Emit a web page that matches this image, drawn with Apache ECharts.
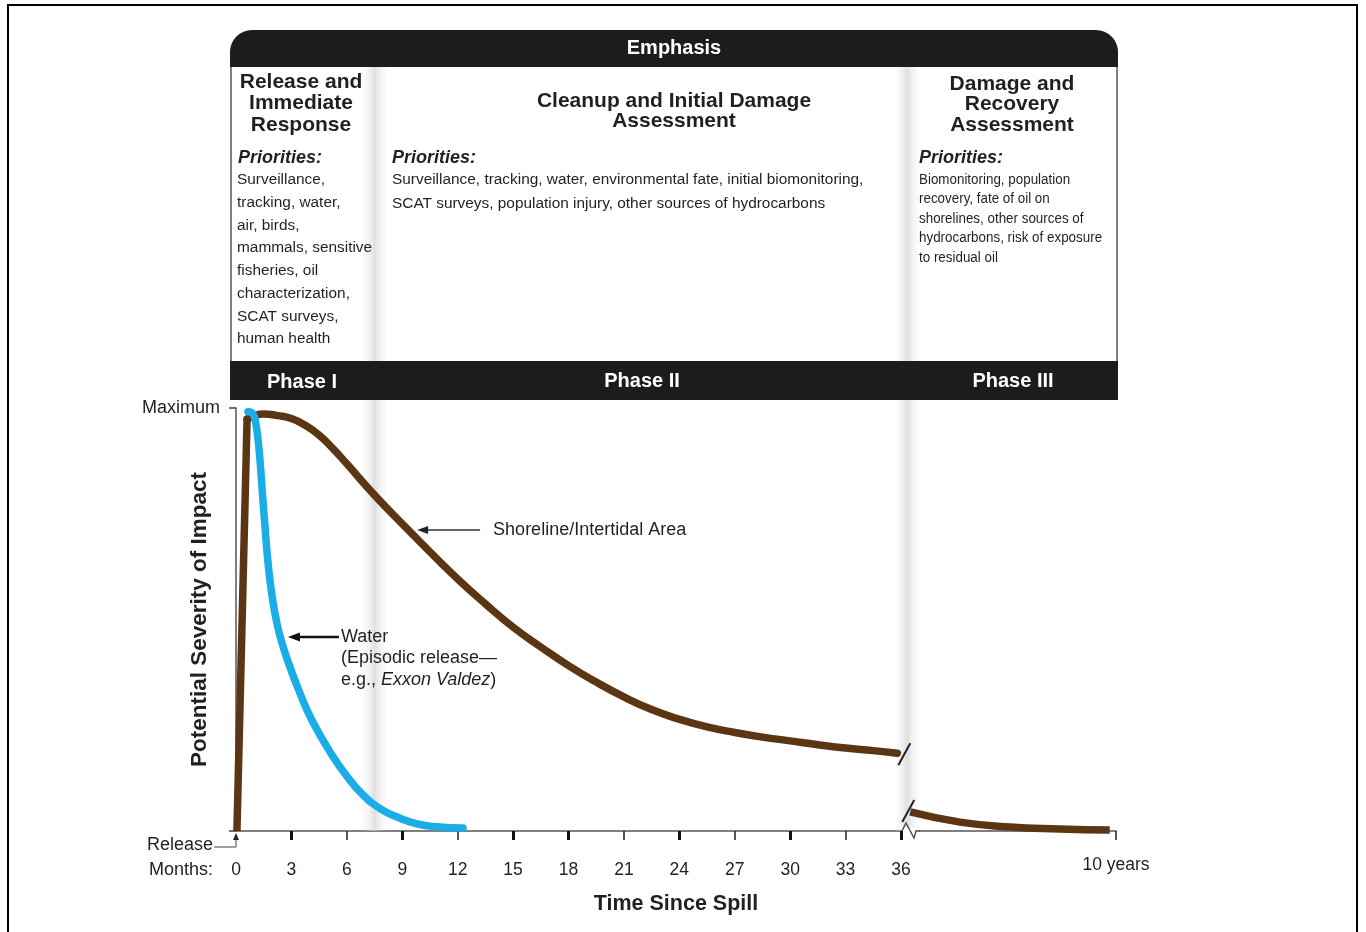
<!DOCTYPE html>
<html><head><meta charset="utf-8">
<script src="https://cdn.jsdelivr.net/npm/echarts@6/dist/echarts.min.js"></script>
<style>html,body{margin:0;padding:0;background:#fff}#c{width:1366px;height:932px}</style>
</head><body><div id="c"></div>
<script>
// ---- data (months since spill, severity 0 = release level, 100 = maximum) ----
const shorelineMonths   = [0.05, 0.6, 1.5, 2.25, 3, 3.75, 4.5, 5.25, 6, 7.5, 9, 10.5, 12, 13.5, 15, 16.5, 18, 19.5, 21, 22.5, 24, 25.5, 27, 28.5, 30, 31.5, 33, 34.5, 35.8];
const shorelineSeverity = [0, 97.4, 98.6, 98.2, 97.5, 95.9, 93.6, 90.4, 86.8, 79.4, 72.6, 66.0, 59.6, 53.7, 48.2, 43.5, 39.1, 35.2, 31.7, 28.7, 26.4, 24.6, 23.3, 22.2, 21.3, 20.4, 19.6, 19.0, 18.4];
// compressed segment after the axis break (3 years -> 10 years)
const shorelineLateMonths   = [36.5, 39.2, 41.9, 44.6, 47.3];
const shorelineLateSeverity = [4.5, 2.1, 0.95, 0.5, 0.24];
const waterMonths   = [0.65, 0.92, 1.08, 1.25, 1.41, 1.57, 1.73, 1.95, 2.22, 2.54, 2.92, 3.46, 4.11, 5.09, 6.01, 6.88, 7.8, 8.72, 9.8, 10.88, 12.29];
const waterSeverity = [99.1, 98.6, 96.2, 90.1, 81.1, 71.9, 63.6, 55.6, 49.0, 43.7, 38.8, 32.6, 26.2, 18.7, 12.9, 8.5, 5.3, 3.3, 1.7, 1.0, 0.7];
const monthLabels = [0, 3, 6, 9, 12, 15, 18, 21, 24, 27, 30, 33, 36];
const thickTicks  = [3, 9, 15, 18, 24, 30, 36];
const thinTicks   = [6, 12, 21, 27, 33];
const tenYearsPos = 47.64;          // axis position standing for "10 years"
const tenYearsLabel = '10 years';
const phaseBoundaries = [7.5, 36.33];

const FONT = '"Liberation Sans", Arial, Helvetica, sans-serif';
const TXT = '#231f20';
const BROWN = '#5c3613';
const zip = (xs, ys) => xs.map((x, i) => [x, ys[i]]);
const shoreline = zip(shorelineMonths, shorelineSeverity);

const chart = echarts.init(document.getElementById('c'), null, {renderer: 'canvas'});
chart.setOption({
  animation: false,
  backgroundColor: '#fff',
  grid: {left: 236, right: 250, top: 408, bottom: 101},
  xAxis: [{
    type: 'value', min: 0, max: tenYearsPos,
    axisLine: {show: true, lineStyle: {color: '#555', width: 1.5}},
    axisTick: {show: true, customValues: thinTicks.concat([tenYearsPos]), length: 9, lineStyle: {color: '#222', width: 1.5}},
    axisLabel: {customValues: monthLabels, formatter: v => String(v), margin: 30, color: TXT, fontSize: 17.5, fontFamily: FONT},
    splitLine: {show: false},
    name: 'Time Since Spill', nameLocation: 'middle', nameGap: 62,
    nameTextStyle: {fontSize: 21.5, fontWeight: 'bold', color: TXT, fontFamily: FONT}
  }, {
    type: 'value', min: 0, max: tenYearsPos, position: 'bottom',
    axisLine: {show: false},
    axisTick: {show: true, customValues: thickTicks, length: 9, lineStyle: {color: '#111', width: 3}},
    axisLabel: {show: false}, splitLine: {show: false}
  }],
  yAxis: {
    type: 'value', min: 0, max: 100, offset: 3,
    axisLine: {show: true, lineStyle: {color: '#555', width: 1.5}},
    axisTick: {show: true, customValues: [0, 100], length: 7, lineStyle: {color: '#444', width: 1.5}},
    axisLabel: {customValues: [100], formatter: () => 'Maximum', margin: 13, color: TXT, fontSize: 18, fontFamily: FONT},
    splitLine: {show: false},
    name: 'Potential Severity of Impact', nameLocation: 'middle', nameGap: 22, nameRotate: 90, nameMoveOverlap: false,
    nameTextStyle: {fontSize: 22.5, fontWeight: 'bold', color: TXT, fontFamily: FONT}
  },
  series: [{
    name: 'Shoreline rise', type: 'line', data: shoreline.slice(0, 2),
    symbol: 'none', z: 3,
    lineStyle: {color: BROWN, width: 7.5, cap: 'butt'}
  }, {
    name: 'Shoreline/Intertidal Area', type: 'line', data: shoreline.slice(1),
    smooth: 0.5, symbol: 'none', z: 3,
    lineStyle: {color: BROWN, width: 7.5, cap: 'round', join: 'round'}
  }, {
    name: 'Shoreline later', type: 'line', data: zip(shorelineLateMonths, shorelineLateSeverity),
    smooth: 0.5, symbol: 'none', z: 3,
    lineStyle: {color: BROWN, width: 7.5, cap: 'butt', join: 'round'}
  }, {
    name: 'Water', type: 'line', data: zip(waterMonths, waterSeverity),
    smooth: 0.5, symbol: 'none', z: 4,
    lineStyle: {color: '#1aade6', width: 7.5, cap: 'round', join: 'round'}
  }]
});

const P = (x, y) => chart.convertToPixel({seriesIndex: 0}, [x, y]);
const [x0, yBase] = P(0, 0);

function txt(x, y, text, o) {
  o = o || {};
  return {type: 'text', x: x, y: y, z: o.z || 30, scaleX: o.scaleX || 1,
    style: {text: text, x: 0, y: 0, fill: o.fill || TXT, font: o.font || ('18px ' + FONT),
      align: o.align || 'left', verticalAlign: o.va || 'middle', lineHeight: o.lh, rich: o.rich}};
}
const els = [];
// frame
els.push({type: 'rect', z: 1, shape: {x: 8, y: 5, width: 1349, height: 945}, style: {fill: 'transparent', stroke: '#000', lineWidth: 2}});
// header side borders
els.push({type: 'line', z: 2, shape: {x1: 231, y1: 50, x2: 231, y2: 400}, style: {stroke: '#555', lineWidth: 1.5}});
els.push({type: 'line', z: 2, shape: {x1: 1117, y1: 50, x2: 1117, y2: 400}, style: {stroke: '#555', lineWidth: 1.5}});
// phase boundary bands
phaseBoundaries.forEach(m => {
  const bx = P(m, 0)[0];
  els.push({type: 'rect', z: 1, shape: {x: bx - 13, y: 66, width: 26, height: yBase - 66},
    style: {fill: {type: 'linear', x: 0, y: 0, x2: 1, y2: 0, colorStops: [
      {offset: 0, color: 'rgba(215,215,215,0)'}, {offset: 0.3, color: 'rgba(215,215,215,0.35)'},
      {offset: 0.5, color: 'rgba(210,210,210,0.7)'}, {offset: 0.7, color: 'rgba(215,215,215,0.35)'},
      {offset: 1, color: 'rgba(215,215,215,0)'}]}}});
});
// header bars
els.push({type: 'rect', z: 5, shape: {x: 230, y: 30, width: 888, height: 37, r: [22, 22, 0, 0]}, style: {fill: '#1c1c1c'}});
els.push({type: 'rect', z: 5, shape: {x: 230, y: 361, width: 888, height: 39}, style: {fill: '#1c1c1c'}});
els.push(txt(674, 48, 'Emphasis', {fill: '#fff', font: 'bold 20px ' + FONT, align: 'center'}));
els.push(txt(302, 382, 'Phase I', {fill: '#fff', font: 'bold 20px ' + FONT, align: 'center'}));
els.push(txt(642, 381, 'Phase II', {fill: '#fff', font: 'bold 20px ' + FONT, align: 'center'}));
els.push(txt(1013, 381, 'Phase III', {fill: '#fff', font: 'bold 20px ' + FONT, align: 'center'}));
// column headings
els.push(txt(301, 103.5, 'Release and\nImmediate\nResponse', {font: 'bold 21px ' + FONT, align: 'center', lh: 21.5}));
els.push(txt(674, 111, 'Cleanup and Initial Damage\nAssessment', {font: 'bold 21px ' + FONT, align: 'center', lh: 20}));
els.push(txt(1012, 104.5, 'Damage and\nRecovery\nAssessment', {font: 'bold 21px ' + FONT, align: 'center', lh: 20.5}));
// priorities
[238, 392, 919].forEach(px => els.push(txt(px, 158, 'Priorities:', {font: 'italic bold 18px ' + FONT})));
els.push(txt(237, 259.5, 'Surveillance,\ntracking, water,\nair, birds,\nmammals, sensitive\nfisheries, oil\ncharacterization,\nSCAT surveys,\nhuman health', {font: '15.4px ' + FONT, lh: 22.7}));
els.push(txt(392, 192, 'Surveillance, tracking, water, environmental fate, initial biomonitoring,\nSCAT surveys, population injury, other sources of hydrocarbons', {font: '15.4px ' + FONT, lh: 24}));
els.push(txt(919, 218.5, 'Biomonitoring, population\nrecovery, fate of oil on\nshorelines, other sources of\nhydrocarbons, risk of exposure\nto residual oil', {font: '15.4px ' + FONT, lh: 19.5, scaleX: 0.87}));

// annotations: shoreline
const sh = P(9.75, 0); const shY = 530;
els.push({type: 'line', z: 20, shape: {x1: sh[0] + 10, y1: shY, x2: sh[0] + 64, y2: shY}, style: {stroke: '#333', lineWidth: 1.3}});
els.push({type: 'polygon', z: 20, shape: {points: [[sh[0] + 1, shY], [sh[0] + 12, shY - 4], [sh[0] + 12, shY + 4]]}, style: {fill: '#222'}});
els.push(txt(sh[0] + 77, shY, 'Shoreline/Intertidal Area', {font: '18px ' + FONT}));
// water
const wa = P(2.65, 0); const waY = 637;
els.push({type: 'line', z: 20, shape: {x1: wa[0] + 14, y1: waY, x2: wa[0] + 54, y2: waY}, style: {stroke: '#111', lineWidth: 2.6}});
els.push({type: 'polygon', z: 20, shape: {points: [[wa[0] + 3, waY], [wa[0] + 15, waY - 4.5], [wa[0] + 15, waY + 4.5]]}, style: {fill: '#111'}});
els.push(txt(wa[0] + 56, waY + 21.5, 'Water\n(Episodic release—\ne.g., {i|Exxon Valdez})', {font: '18px ' + FONT, lh: 21.5,
  rich: {i: {font: 'italic 18px ' + FONT, fill: TXT, lineHeight: 21.5}}}));

// release marker and month label
els.push({type: 'polyline', z: 20, shape: {points: [[214, yBase + 16], [x0, yBase + 16], [x0, yBase + 7]]}, style: {stroke: '#444', lineWidth: 1, fill: null}});
els.push({type: 'polygon', z: 20, shape: {points: [[x0, yBase + 2], [x0 - 3, yBase + 9], [x0 + 3, yBase + 9]]}, style: {fill: '#222'}});
els.push(txt(213, yBase + 14, 'Release', {font: '18px ' + FONT, align: 'right'}));
els.push(txt(213, yBase + 39, 'Months:', {font: '18px ' + FONT, align: 'right'}));
const ty = P(tenYearsPos, 0);
els.push(txt(ty[0], yBase + 34, tenYearsLabel, {font: '17.5px ' + FONT, align: 'center'}));

// break marks
const e1 = P(shorelineMonths[shorelineMonths.length - 1], shorelineSeverity[shorelineSeverity.length - 1]);
els.push({type: 'line', z: 20, shape: {x1: e1[0] + 1, y1: e1[1] + 12, x2: e1[0] + 13, y2: e1[1] - 10}, style: {stroke: '#222', lineWidth: 2}});
const s2 = P(shorelineLateMonths[0], shorelineLateSeverity[0]);
els.push({type: 'line', z: 20, shape: {x1: s2[0] - 8, y1: s2[1] + 10, x2: s2[0] + 4, y2: s2[1] - 12}, style: {stroke: '#222', lineWidth: 2}});
const bk = P(36, 0)[0];
els.push({type: 'rect', z: 19, shape: {x: bk + 2, y: yBase - 3, width: 16, height: 6}, style: {fill: '#fff'}});
els.push({type: 'polyline', z: 20, shape: {points: [[bk + 1, yBase], [bk + 5, yBase - 8], [bk + 13, yBase + 7], [bk + 15, yBase], [bk + 19, yBase]]}, style: {stroke: '#444', lineWidth: 1.3, fill: null}});

chart.setOption({graphic: {elements: els}});
</script></body></html>
